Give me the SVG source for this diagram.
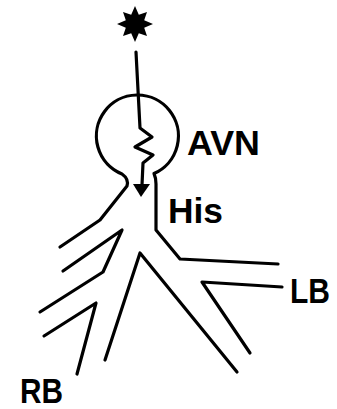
<svg xmlns="http://www.w3.org/2000/svg" width="337" height="409" viewBox="0 0 337 409">
  <style>
    .ln { fill: none; stroke: #000; stroke-width: 3.2; stroke-linejoin: round; stroke-linecap: round; }
    .lbl { font-family: "Liberation Sans", Arial, sans-serif; font-weight: bold; font-size: 35px; fill: #000; }
  </style>
  <rect width="337" height="409" fill="#fff"/>

  <!-- ectopic focus -->
  <g id="focus">
    <polygon fill="#000" points="135,6 138.8,14.8 147,12 144.2,20.2 153,24 144.2,27.8 147,36 138.8,33.2 135,42 131.2,33.2 123,36 125.8,27.8 117,24 125.8,20.2 123,12 131.2,14.8"/>
  </g>

  <!-- AV node with His bundle and branches -->
  <g id="avn">
    <path class="ln" d="M60,247 L100,220 L127,186 Q129,179 122,174 A41,41 0 1 1 154,173.5 Q156,178 156,184 L156,230 L180,259 L278,264"/>
  </g>

  <g id="lb">
    <path class="ln" d="M250,353 L202,282 L282,287"/>
  </g>

  <g id="septal">
    <path class="ln" d="M105,360 L140,253 L237,372"/>
  </g>

  <g id="rb">
    <path class="ln" d="M63,271 L122,230 L103,272 L40,312"/>
    <path class="ln" d="M44,336 L96,303 L77,374"/>
  </g>

  <!-- conduction path through the node -->
  <g id="connectors">
    <path class="ln" d="M136,52 L140,128 L152,137 L135,147 L153,155 L143,163 L142,185"/>
    <polygon fill="#000" points="133,184 150,184 141,197"/>
  </g>

  <g id="labels">
    <text class="lbl" x="187" y="155" textLength="73" lengthAdjust="spacingAndGlyphs">AVN</text>
    <text class="lbl" x="168" y="223" textLength="55" lengthAdjust="spacingAndGlyphs">His</text>
    <text class="lbl" x="290" y="303" textLength="40" lengthAdjust="spacingAndGlyphs">LB</text>
    <text class="lbl" x="20" y="403" textLength="43" lengthAdjust="spacingAndGlyphs">RB</text>
  </g>
</svg>
